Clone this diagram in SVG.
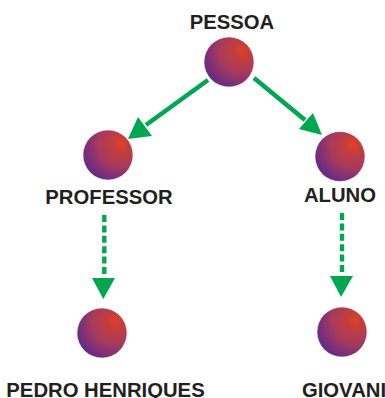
<svg xmlns="http://www.w3.org/2000/svg" width="385" height="398" viewBox="0 0 385 398">
<style>
.b{fill:url(#g);stroke:#fff;stroke-width:.5}
.t{font-family:"Liberation Sans",Arial,sans-serif;font-weight:700;font-size:20.3px;fill:#231f20;text-anchor:middle}
.s{stroke:#00a650;stroke-width:4.6;fill:none}
.d{stroke:#00a650;stroke-width:4.4;fill:none;stroke-dasharray:7 3.4}
.h{fill:#00a650}
</style>
<defs><radialGradient id="g" cx=".76" cy=".27" r=".9" fx=".76" fy=".27"><stop offset="0" stop-color="#e33f26"/><stop offset=".18" stop-color="#c23e3c"/><stop offset=".5" stop-color="#a83a5c"/><stop offset=".78" stop-color="#7a2f7a"/><stop offset="1" stop-color="#56298a"/></radialGradient></defs>
<g id="connectors">
<path class="s" d="M208 80L146 125"/><polygon class="h" points="128,139 138,117 152,136"/>
<path class="s" d="M254 78L305 120"/><polygon class="h" points="322,135 313,113 299,129"/>
<path class="d" d="M104.300 215V274"/><polygon class="h" points="103.300,299 92,278 115,278"/>
<path class="d" d="M342 213V272"/><polygon class="h" points="341,297 330,276 353,276"/>
</g>
<g id="pessoa"><circle class="b" cx="229" cy="62" r="25"/><text class="t" x="232" y="29">PESSOA</text></g>
<g id="professor"><circle class="b" cx="108" cy="155" r="25"/><text class="t" x="109" y="203.500">PROFESSOR</text></g>
<g id="aluno"><circle class="b" cx="340" cy="156.500" r="25"/><text class="t" x="340" y="202">ALUNO</text></g>
<g id="pedro"><circle class="b" cx="102" cy="333" r="25"/><text class="t" x="105.500" y="396.500">PEDRO HENRIQUES</text></g>
<g id="giovani"><circle class="b" cx="342" cy="332" r="25"/><text class="t" x="344" y="396.500">GIOVANI</text></g>
</svg>
